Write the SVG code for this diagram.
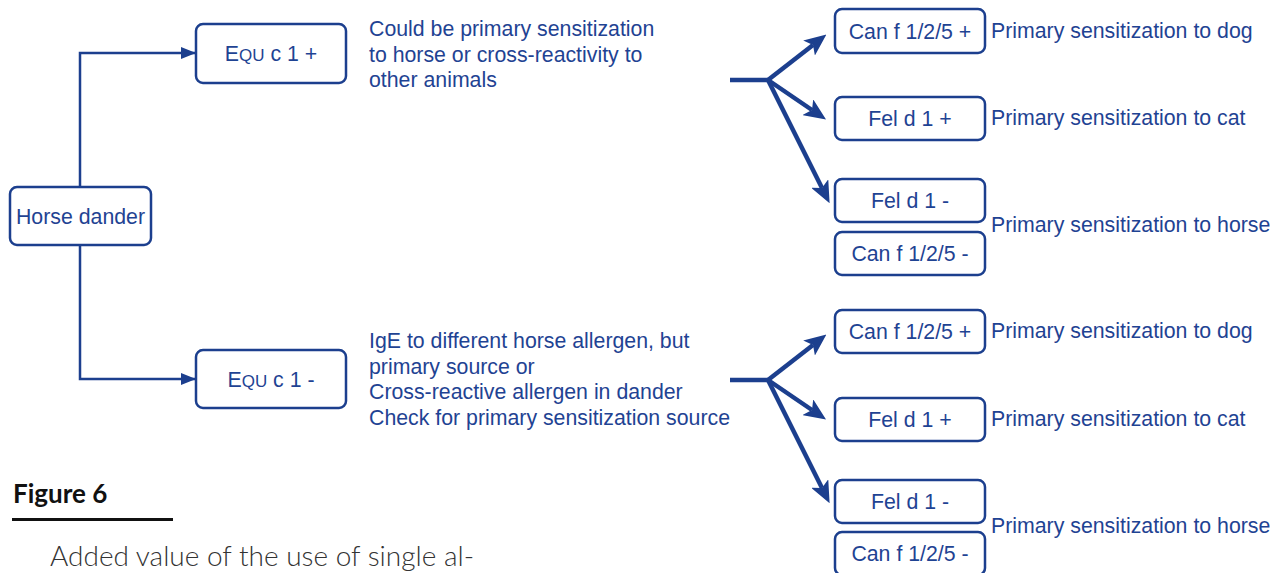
<svg xmlns="http://www.w3.org/2000/svg" width="1273" height="573" viewBox="0 0 1273 573">
<defs>
<style>
.box{fill:#fff;stroke:#1c3f8e;stroke-width:2.5}
.lbl{font-family:"Liberation Sans",Arial,sans-serif;font-size:21.3px;fill:#1f4393;text-anchor:middle}
.txt{font-family:"Liberation Sans",Arial,sans-serif;font-size:21.3px;fill:#1f4393}
.sc{font-variant:small-caps;font-size:24.5px}
.thin{fill:none;stroke:#1c3f8e;stroke-width:2.5}
.fork{fill:none;stroke:#1c3f8e;stroke-width:4.5}
</style>
<marker id="tri" viewBox="0 0 15 12" refX="15" refY="6" markerWidth="15" markerHeight="12" markerUnits="userSpaceOnUse" orient="auto">
<path d="M0,0 L15,6 L0,12 Z" fill="#1c3f8e"/>
</marker>
<marker id="notch" viewBox="0 0 22 19" refX="5" refY="9.5" markerWidth="22" markerHeight="19" markerUnits="userSpaceOnUse" orient="auto">
<path d="M0,0 L22,9.5 L0,19 L5,9.5 Z" fill="#1c3f8e"/>
</marker>
</defs>
<rect width="1273" height="573" fill="#fff"/>

<g id="connectors">
<path class="thin" d="M80,187 V53 H196" marker-end="url(#tri)"/>
<path class="thin" d="M80,245 V379 H196" marker-end="url(#tri)"/>
<path class="fork" d="M730,80 H768"/>
<path class="fork" d="M768,80 L813,45" marker-end="url(#notch)"/>
<path class="fork" d="M768,80 L812,110" marker-end="url(#notch)"/>
<path class="fork" d="M768,80 L822,188" marker-end="url(#notch)"/>
<path class="fork" d="M730,380 H768"/>
<path class="fork" d="M768,380 L813,345" marker-end="url(#notch)"/>
<path class="fork" d="M768,380 L812,410" marker-end="url(#notch)"/>
<path class="fork" d="M768,380 L822,488" marker-end="url(#notch)"/>
</g>

<g id="horse-dander"><rect class="box" x="10" y="187" width="141" height="58" rx="7"/><text class="lbl" x="80.5" y="223.5">Horse dander</text></g>
<g id="equ-pos"><rect class="box" x="196" y="24" width="150" height="59" rx="7"/><text class="lbl" x="271" y="61">E<tspan class="sc">qu</tspan> c 1 +</text></g>
<g id="equ-neg"><rect class="box" x="196" y="350" width="150" height="58" rx="7"/><text class="lbl" x="271" y="386.5">E<tspan class="sc">qu</tspan> c 1 -</text></g>

<g id="note-pos"><text class="txt"><tspan x="369" y="36">Could be primary sensitization</tspan><tspan x="369" y="61.5">to horse or cross-reactivity to</tspan><tspan x="369" y="87">other animals</tspan></text></g>
<g id="note-neg"><text class="txt"><tspan x="369" y="348">IgE to different horse allergen, but</tspan><tspan x="369" y="373.5">primary source or</tspan><tspan x="369" y="399">Cross-reactive allergen in dander</tspan><tspan x="369" y="424.5">Check for primary sensitization source</tspan></text></g>

<g id="canf-pos-1"><rect class="box" x="835" y="9" width="150" height="44" rx="7"/><text class="lbl" x="910" y="38.5">Can f 1/2/5 +</text></g>
<g id="feld-pos-1"><rect class="box" x="835" y="97" width="150" height="43" rx="7"/><text class="lbl" x="910" y="126">Fel d 1 +</text></g>
<g id="feld-neg-1"><rect class="box" x="835" y="179" width="150" height="43" rx="7"/><text class="lbl" x="910" y="208">Fel d 1 -</text></g>
<g id="canf-neg-1"><rect class="box" x="835" y="232" width="150" height="43" rx="7"/><text class="lbl" x="910" y="261">Can f 1/2/5 -</text></g>

<g id="canf-pos-2"><rect class="box" x="835" y="310" width="150" height="43" rx="7"/><text class="lbl" x="910" y="339">Can f 1/2/5 +</text></g>
<g id="feld-pos-2"><rect class="box" x="835" y="398" width="150" height="43" rx="7"/><text class="lbl" x="910" y="427">Fel d 1 +</text></g>
<g id="feld-neg-2"><rect class="box" x="835" y="480" width="150" height="43" rx="7"/><text class="lbl" x="910" y="509">Fel d 1 -</text></g>
<g id="canf-neg-2"><rect class="box" x="835" y="532" width="150" height="43" rx="7"/><text class="lbl" x="910" y="561">Can f 1/2/5 -</text></g>

<g id="results">
<text class="txt" x="991" y="37.5">Primary sensitization to dog</text>
<text class="txt" x="991" y="124.5">Primary sensitization to cat</text>
<text class="txt" x="991" y="231.5">Primary sensitization to horse</text>
<text class="txt" x="991" y="337.5">Primary sensitization to dog</text>
<text class="txt" x="991" y="425.5">Primary sensitization to cat</text>
<text class="txt" x="991" y="532.5">Primary sensitization to horse</text>
</g>

<g id="caption">
<text x="13" y="503" font-family="Lato,'Open Sans',sans-serif" font-weight="700" font-size="26" fill="#111">Figure 6</text>
<rect x="12" y="518" width="161" height="3" fill="#111"/>
<text x="50" y="566" font-family="Lato,'Open Sans',sans-serif" font-weight="300" font-size="28" fill="#333">Added value of the use of single al-</text>
</g>
</svg>
